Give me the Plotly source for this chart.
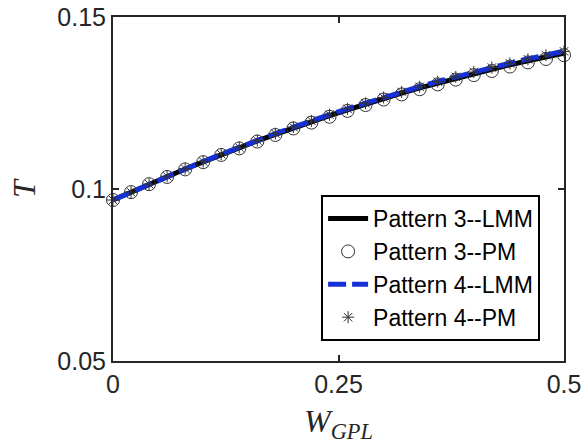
import plotly.graph_objects as go

w_gpl = [0.00, 0.02, 0.04, 0.06, 0.08, 0.10, 0.12, 0.14, 0.16, 0.18, 0.20, 0.22, 0.24,
         0.26, 0.28, 0.30, 0.32, 0.34, 0.36, 0.38, 0.40, 0.42, 0.44, 0.46, 0.48, 0.50]

p3_lmm = [0.0968, 0.0991, 0.1014, 0.1036, 0.1058, 0.1079, 0.1100, 0.1120, 0.1140, 0.1159,
          0.1178, 0.1196, 0.1213, 0.1230, 0.1247, 0.1263, 0.1279, 0.1294, 0.1308, 0.1322,
          0.1336, 0.1348, 0.1361, 0.1373, 0.1384, 0.1395]
p3_pm = [0.0968, 0.0991, 0.1014, 0.1035, 0.1057, 0.1078, 0.1099, 0.1118, 0.1138, 0.1157,
         0.1176, 0.1193, 0.1210, 0.1227, 0.1244, 0.1260, 0.1275, 0.1290, 0.1304, 0.1318,
         0.1331, 0.1343, 0.1356, 0.1368, 0.1378, 0.1389]
p4_lmm = [0.0968, 0.0991, 0.1014, 0.1037, 0.1059, 0.1080, 0.1101, 0.1122, 0.1142, 0.1161,
          0.1180, 0.1199, 0.1216, 0.1233, 0.1250, 0.1266, 0.1283, 0.1298, 0.1312, 0.1326,
          0.1341, 0.1353, 0.1366, 0.1378, 0.1390, 0.1401]
p4_pm = [0.0968, 0.0991, 0.1014, 0.1037, 0.1059, 0.1080, 0.1101, 0.1121, 0.1141, 0.1161,
         0.1180, 0.1198, 0.1216, 0.1233, 0.1249, 0.1266, 0.1282, 0.1297, 0.1312, 0.1326,
         0.1340, 0.1353, 0.1365, 0.1377, 0.1389, 0.1400]

names = ["Pattern 3--LMM", "Pattern 3--PM", "Pattern 4--LMM", "Pattern 4--PM"]
x_ticks = [0, 0.25, 0.5]
x_ticklabels = ["0", "0.25", "0.5"]
y_ticks = [0.05, 0.1, 0.15]
y_ticklabels = ["0.05", "0.1", "0.15"]

blue = "#1530d8"
axc = "#262626"

fig = go.Figure()
fig.add_trace(go.Scatter(x=w_gpl, y=p3_lmm, mode="lines", name=names[0],
                         line=dict(color="black", width=5), cliponaxis=False))
fig.add_trace(go.Scatter(x=w_gpl, y=p3_pm, mode="markers", name=names[1],
                         marker=dict(symbol="circle-open", size=13, color="#333333",
                                     line=dict(width=1, color="#333333")),
                         cliponaxis=False))
fig.add_trace(go.Scatter(x=w_gpl, y=p4_lmm, mode="lines", name=names[2],
                         line=dict(color=blue, width=5, dash="18px,6px"), cliponaxis=False))
fig.add_trace(go.Scatter(x=w_gpl, y=p4_pm, mode="markers", name=names[3],
                         marker=dict(symbol="asterisk-open", size=10, color="#333333",
                                     line=dict(width=1, color="#333333")),
                         cliponaxis=False))

tickfont = dict(family="Liberation Sans, Arial, sans-serif", size=25, color=axc)

fig.update_layout(
    width=584, height=444,
    margin=dict(l=113, r=20, t=17, b=83, autoexpand=False),
    paper_bgcolor="white", plot_bgcolor="white",
    showlegend=True,
    legend=dict(
        x=0.947, y=0.058, xanchor="right", yanchor="bottom",
        bgcolor="white", bordercolor="black", borderwidth=2,
        font=dict(family="Liberation Sans, Arial, sans-serif", size=23, color="black"),
        tracegroupgap=0, itemwidth=40,
    ),
    xaxis=dict(
        range=[0, 0.5], tickvals=x_ticks, ticktext=x_ticklabels, automargin=False,
        showline=True, linecolor=axc, linewidth=2, mirror="ticks",
        ticks="inside", ticklen=6, tickwidth=1.5, tickcolor=axc,
        showgrid=False, zeroline=False, tickfont=tickfont,
        title=dict(text="<i>W</i><sub><i>GPL</i></sub>",
                   font=dict(family="Liberation Serif, DejaVu Serif, serif", size=32, color=axc),
                   standoff=14),
    ),
    yaxis=dict(
        range=[0.05, 0.15], tickvals=y_ticks, ticktext=y_ticklabels, automargin=False,
        showline=True, linecolor=axc, linewidth=2, mirror="ticks",
        ticks="inside", ticklen=6, tickwidth=1.5, tickcolor=axc,
        showgrid=False, zeroline=False, tickfont=tickfont,
        title=dict(text="<i>T</i>",
                   font=dict(family="Liberation Serif, DejaVu Serif, serif", size=32, color=axc),
                   standoff=12),
    ),
)

fig.write_html("out.html")
